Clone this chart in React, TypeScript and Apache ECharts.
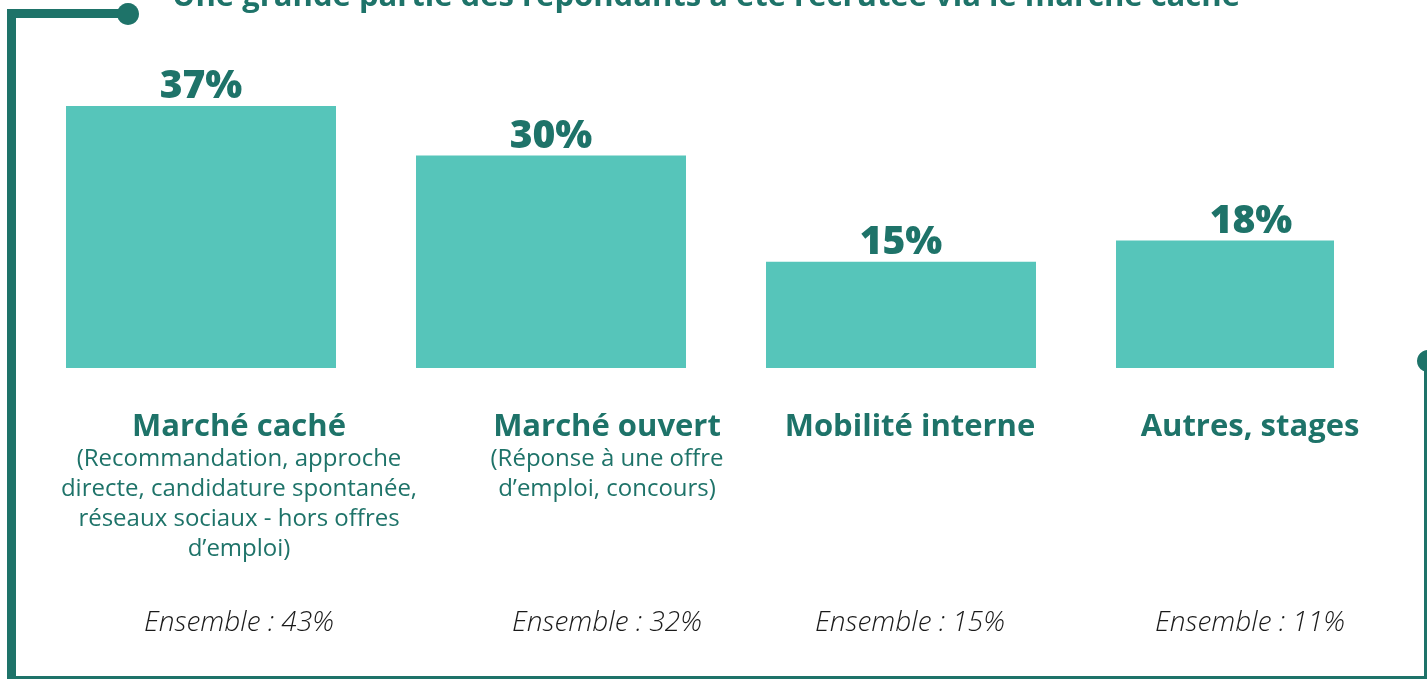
import React, { useEffect, useRef } from "react";
import * as echarts from "echarts";

const TITLE = "Une grande partie des répondants a été recrutée via le marché caché";
const categories = ["Marché caché", "Marché ouvert", "Mobilité interne", "Autres, stages"];
const subtitles = [
  ["(Recommandation, approche", "directe, candidature spontanée,", "réseaux sociaux - hors offres", "d’emploi)"],
  ["(Réponse à une offre", "d’emploi, concours)"],
  [],
  [],
];
const mainValues = [37, 30, 15, null];
const otherValues = [null, null, null, 18];
const ensemble = [43, 32, 15, 11];
const labelShift = [76, 112, 18, -2];

const DARK = "#1E7369";
const BAR = "#56C5BA";
const FONT = "'Open Sans', 'Noto Sans', sans-serif";

export default function App() {
  const ref = useRef<HTMLDivElement>(null);
  useEffect(() => {
    if (!ref.current) return;
    const chart = echarts.init(ref.current, null, { renderer: "svg" });
    const labelFor = (i: number) => {
      const subs = subtitles[i];
      const parts = [`{t|${categories[i]}}`];
      subs.forEach((s) => parts.push(`{s|${s}}`));
      parts.push(`{e${subs.length}|Ensemble : ${ensemble[i]}%}`);
      return parts.join("\n");
    };
    const valueLabel = {
      show: true,
      position: "top",
      distance: 4,
      formatter: "{c}%",
      fontSize: 39,
      fontWeight: 800,
      fontFamily: FONT,
      color: DARK,
    };
    const eStyle = { fontSize: 28, fontStyle: "italic", fontWeight: 300, color: "#1a1a1a", fontFamily: FONT, align: "center" };
    chart.setOption({
      animation: false,
      grid: { left: 26, right: 1, top: 14, bottom: 311 },
      xAxis: {
        type: "category",
        data: categories.map((c, i) => ({
          value: c,
          textStyle: { padding: labelShift[i] >= 0 ? [0, 0, 0, labelShift[i]] : [0, -labelShift[i], 0, 0] },
        })),
        axisLine: { show: false },
        axisTick: { show: false },
        axisLabel: {
          margin: 38,
          interval: 0,
          verticalAlign: "top",
          formatter: (_v: string, i: number) => labelFor(i),
          rich: {
            t: { fontSize: 31, fontWeight: "bold", color: DARK, fontFamily: FONT, lineHeight: 35, align: "center" },
            s: { fontSize: 24, color: DARK, fontFamily: FONT, lineHeight: 30, align: "center" },
            e4: { ...eStyle, lineHeight: 118 },
            e2: { ...eStyle, lineHeight: 238 },
            e0: { ...eStyle, lineHeight: 358 },
          },
        },
      },
      yAxis: { type: "value", min: 0, max: 50, show: false, splitLine: { show: false } },
      series: [
        {
          type: "bar",
          data: otherValues.map((v) => (v == null ? "-" : v)),
          barWidth: 218,
          barGap: "-100%",
          itemStyle: { color: BAR },
          label: { ...valueLabel, offset: [26, 0] },
        },
        {
          type: "bar",
          data: mainValues.map((v) => (v == null ? "-" : v)),
          barWidth: 270,
          barGap: "-100%",
          itemStyle: { color: BAR },
          label: valueLabel,
        },
      ],
      graphic: [
        { type: "line", shape: { x1: 11.5, y1: 9, x2: 11.5, y2: 679 }, style: { stroke: DARK, lineWidth: 9 } },
        { type: "line", shape: { x1: 7, y1: 13.5, x2: 128, y2: 13.5 }, style: { stroke: DARK, lineWidth: 9 } },
        { type: "circle", shape: { cx: 128, cy: 14, r: 11 }, style: { fill: DARK } },
        { type: "line", shape: { x1: 16, y1: 677.5, x2: 1427, y2: 677.5 }, style: { stroke: DARK, lineWidth: 3 } },
        { type: "line", shape: { x1: 1425.5, y1: 362, x2: 1425.5, y2: 679 }, style: { stroke: DARK, lineWidth: 3 } },
        { type: "circle", shape: { cx: 1428, cy: 361, r: 11 }, style: { fill: DARK } },
        {
          type: "text",
          x: 706,
          y: 9,
          style: {
            text: TITLE,
            fontSize: 31,
            fontWeight: "bold",
            fontFamily: FONT,
            fill: DARK,
            align: "center",
            verticalAlign: "bottom",
          },
        },
      ],
    });
    return () => chart.dispose();
  }, []);
  return <div ref={ref} style={{ position: "fixed", left: 0, top: 0, width: 1427, height: 679 }} />;
}
